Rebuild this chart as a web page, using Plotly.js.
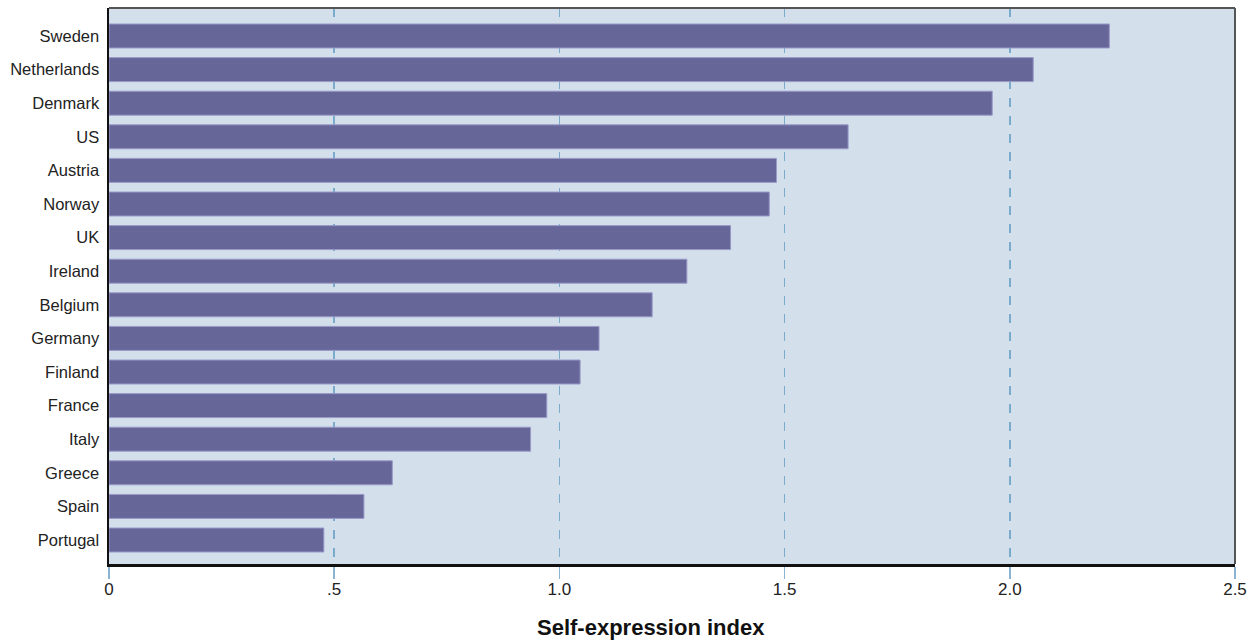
<!DOCTYPE html>
<html>
<head>
<meta charset="utf-8">
<script src="https://cdn.plot.ly/plotly-3.0.1.min.js"></script>
<style>html,body{margin:0;padding:0;background:#fff;}#chart{width:1253px;height:642px;}</style>
</head>
<body>
<div id="chart"></div>
<script>
// Data (top to bottom as shown)
const countries = ["Sweden","Netherlands","Denmark","US","Austria","Norway","UK","Ireland","Belgium","Germany","Finland","France","Italy","Greece","Spain","Portugal"];
const selfExpression = [2.221,2.052,1.961,1.641,1.482,1.466,1.380,1.283,1.206,1.088,1.046,0.972,0.936,0.629,0.566,0.477];
const tickValues = [0,0.5,1.0,1.5,2.0,2.5];
const tickLabels = ["0",".5","1.0","1.5","2.0","2.5"];
const axisTitle = "Self-expression index";

const yCats = countries.slice().reverse();
const xVals = selfExpression.slice().reverse();

const trace = {
  type: 'bar',
  orientation: 'h',
  x: xVals,
  y: yCats,
  width: 0.714,
  marker: {color: '#666699', line: {color: '#9a9ac9', width: 1}},
  hoverinfo: 'x+y'
};

const layout = {
  width: 1253, height: 642,
  margin: {l: 109, r: 18, t: 8, b: 78},
  paper_bgcolor: '#ffffff',
  plot_bgcolor: '#d3dfeb',
  showlegend: false,
  font: {family: 'Liberation Sans Narrow, Arial Narrow, Liberation Sans, sans-serif', color: '#222'},
  xaxis: {
    range: [0, 2.5],
    tickvals: tickValues,
    ticktext: tickLabels,
    showgrid: true,
    gridcolor: '#7aaacc',
    gridwidth: 1.5,
    griddash: 'dash',
    zeroline: false,
    showline: true,
    linecolor: '#111',
    linewidth: 2.5,
    ticks: 'outside',
    ticklen: 12,
    tickcolor: '#8ab4d2',
    tickwidth: 1.5,
    ticklabelstandoff: -4,
    tickfont: {family: 'Liberation Sans, Arial, sans-serif', size: 17, color: '#222'},
    fixedrange: true
  },
  yaxis: {
    type: 'category',
    categoryorder: 'array',
    categoryarray: yCats,
    range: [-0.714, 15.833],
    showgrid: false,
    zeroline: false,
    showline: true,
    linecolor: '#111',
    linewidth: 2.5,
    ticks: '',
    ticklabelstandoff: 4,
    tickfont: {family: 'Liberation Sans Narrow, Arial Narrow, sans-serif', size: 16.5, color: '#222'},
    fixedrange: true
  },
  annotations: [
    {text: axisTitle, xref: 'paper', yref: 'paper', x: 0.4813, y: -0.115, xanchor: 'center', yanchor: 'middle', showarrow: false,
     font: {family: 'Liberation Sans, Arial, sans-serif', size: 22, color: '#111', weight: 'bold'}}
  ],
  shapes: [
    {type: 'line', xref: 'paper', yref: 'paper', x0: 0, x1: 1, y0: 1, y1: 1, line: {color: '#555', width: 2}},
    {type: 'line', xref: 'paper', yref: 'paper', x0: 1, x1: 1, y0: 0, y1: 1, line: {color: '#555', width: 2}}
  ]
};

Plotly.newPlot('chart', [trace], layout, {displayModeBar: false, staticPlot: true});
</script>
</body>
</html>
